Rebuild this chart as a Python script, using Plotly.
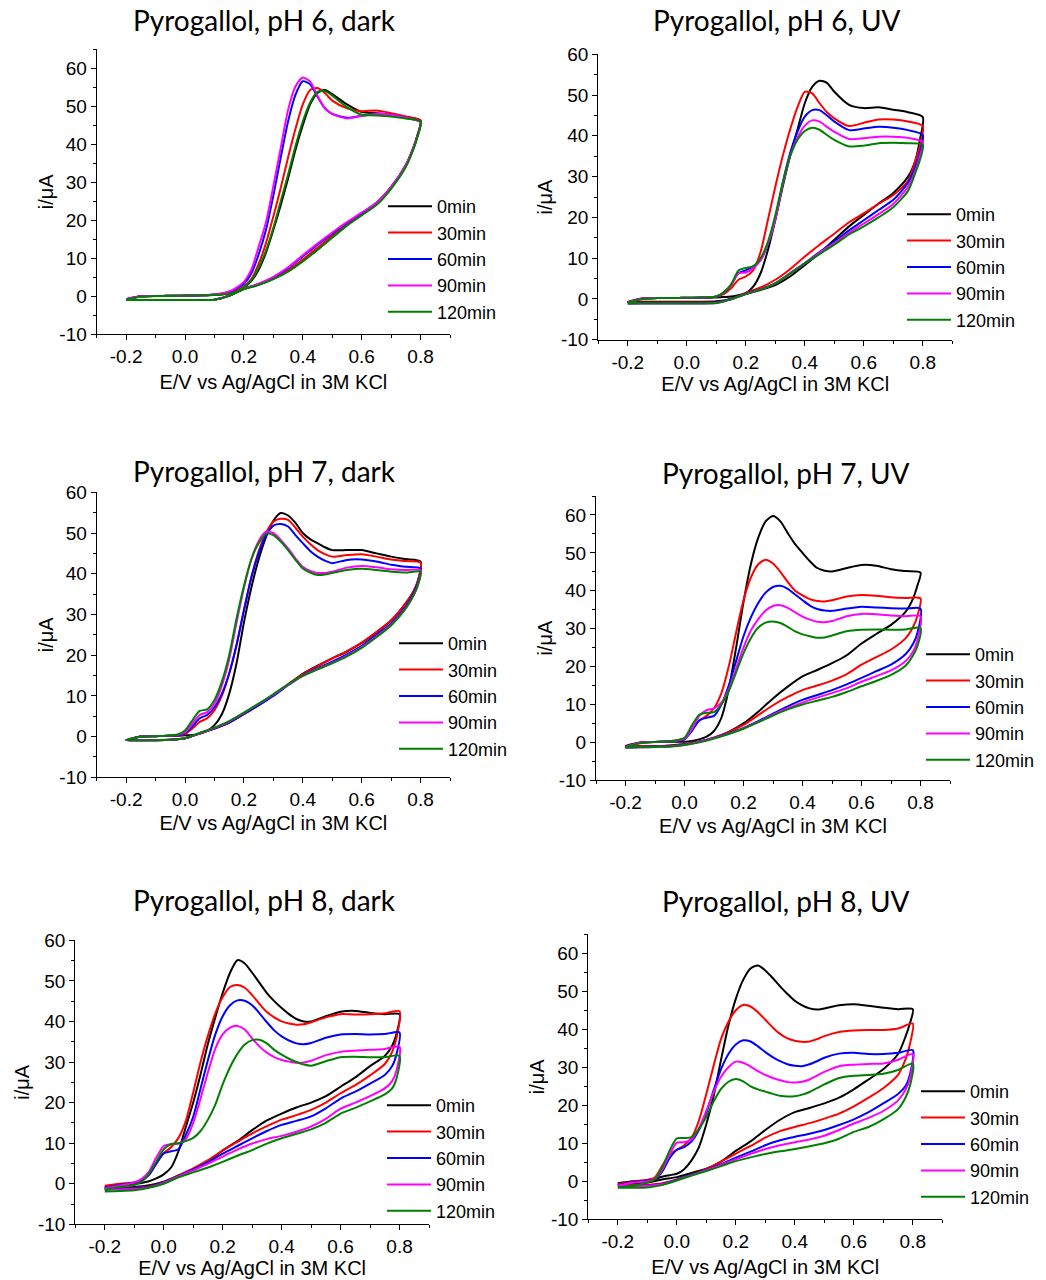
import plotly.graph_objects as go

W, H = 1046, 1280

# Potential grid (V vs Ag/AgCl): anodic sweep, then cathodic return
E_FWD = [-0.2, -0.15, -0.1, -0.075, -0.05, -0.025, 0.0, 0.025, 0.05, 0.075, 0.1, 0.125,
         0.15, 0.175, 0.2, 0.225, 0.25, 0.275, 0.3, 0.325, 0.35, 0.375, 0.4, 0.425,
         0.45, 0.475, 0.5, 0.55, 0.6, 0.65, 0.7, 0.75, 0.8]
E_REV = [0.79, 0.775, 0.75, 0.7, 0.65, 0.6, 0.55, 0.5, 0.45, 0.4, 0.35, 0.3, 0.25,
         0.2, 0.15, 0.1, 0.05, 0.0, -0.05, -0.1, -0.15, -0.2]

LABELS = ["0min", "30min", "60min", "90min", "120min"]
COLORS = ["#000000", "#ff0000", "#0000ff", "#ff00ff", "#008000"]

X_TICKS = [-0.2, 0.0, 0.2, 0.4, 0.6, 0.8]
X_TICK_TEXT = ["-0.2", "0.0", "0.2", "0.4", "0.6", "0.8"]
Y_TICKS = [-10, 0, 10, 20, 30, 40, 50, 60]
Y_TICK_TEXT = ["-10", "0", "10", "20", "30", "40", "50", "60"]

# Currents in uA, one list per irradiation time (0, 30, 60, 90, 120 min)
PH6_DARK_FWD = [
    [-0.8, 0.0, 0.1, 0.1, 0.15, 0.15, 0.2, 0.2, 0.25, 0.3, 0.4, 0.5, 0.7, 1.2, 2.3, 4.0, 7.0, 11.5, 17.5, 24.0, 31.0, 38.5, 45.0, 50.5, 53.5, 54.3, 53.2, 50.5, 48.5, 48.2, 47.8, 47.2, 46.3],
    [-0.8, 0.0, 0.1, 0.1, 0.15, 0.15, 0.2, 0.2, 0.25, 0.3, 0.4, 0.55, 0.8, 1.5, 2.6, 4.5, 8.5, 14.0, 21.0, 28.5, 36.5, 44.0, 50.5, 54.3, 54.8, 53.5, 51.5, 49.5, 48.7, 48.9, 48.2, 47.3, 46.2],
    [-0.8, 0.0, 0.1, 0.1, 0.15, 0.15, 0.2, 0.2, 0.25, 0.3, 0.45, 0.65, 1.1, 2.0, 3.3, 6.0, 11.0, 17.5, 26.5, 36.5, 46.0, 53.0, 56.6, 55.8, 52.5, 49.5, 48.0, 47.0, 47.5, 48.0, 47.8, 47.0, 45.9],
    [-0.8, 0.0, 0.1, 0.1, 0.15, 0.15, 0.2, 0.2, 0.25, 0.35, 0.5, 0.8, 1.3, 2.3, 3.8, 7.0, 13.0, 19.5, 29.0, 39.0, 49.0, 55.2, 57.6, 56.5, 52.8, 49.5, 48.0, 46.8, 47.5, 48.0, 47.8, 47.0, 45.8],
    [-0.9, -0.1, 0.05, 0.1, 0.1, 0.15, 0.15, 0.2, 0.2, 0.25, 0.35, 0.5, 0.7, 1.2, 2.4, 4.2, 7.5, 12.0, 18.0, 25.0, 32.0, 39.5, 46.0, 51.0, 53.8, 54.0, 52.8, 49.8, 47.8, 47.6, 47.3, 46.8, 46.0],
]
PH6_DARK_REV = [
    [42.5, 39.0, 34.5, 28.5, 24.3, 21.5, 18.8, 15.6, 12.3, 9.3, 6.6, 4.6, 3.0, 1.9, 0.1, -0.9, -1.0, -1.0, -1.0, -1.0, -1.0, -1.0],
    [42.5, 39.0, 34.5, 28.7, 24.5, 21.8, 19.0, 15.9, 12.8, 9.7, 6.9, 4.8, 3.1, 2.0, 0.2, -0.9, -1.0, -1.0, -1.0, -1.0, -1.0, -1.0],
    [42.3, 38.8, 34.5, 28.8, 24.6, 21.9, 19.3, 16.5, 13.6, 10.5, 7.4, 5.0, 3.2, 2.0, 0.2, -0.9, -1.0, -1.0, -1.0, -1.0, -1.0, -1.0],
    [42.3, 38.8, 34.5, 28.8, 24.6, 22.0, 19.5, 16.8, 13.9, 10.8, 7.6, 5.1, 3.3, 2.0, 0.2, -0.9, -1.0, -1.0, -1.0, -1.0, -1.0, -1.0],
    [42.0, 38.5, 34.0, 28.3, 24.0, 21.3, 18.6, 15.4, 12.2, 9.2, 6.5, 4.5, 3.0, 1.9, 0.1, -0.9, -1.0, -1.0, -1.0, -1.0, -1.0, -1.0],
]

PH6_UV_FWD = [
    [-0.7, 0.1, 0.2, 0.2, 0.2, 0.2, 0.2, 0.2, 0.25, 0.3, 0.35, 0.45, 0.6, 0.9, 1.4, 3.0, 6.3, 12.0, 19.4, 27.5, 35.0, 41.5, 48.0, 52.0, 53.5, 53.0, 50.8, 47.6, 46.8, 47.0, 46.4, 45.8, 44.6],
    [-0.8, 0.1, 0.2, 0.2, 0.2, 0.25, 0.3, 0.3, 0.35, 0.4, 0.6, 1.2, 2.6, 4.7, 5.5, 7.0, 11.5, 19.4, 27.5, 35.0, 41.5, 47.0, 50.8, 50.4, 48.0, 45.8, 44.3, 42.4, 43.2, 44.0, 44.0, 43.5, 42.4],
    [-0.9, 0.1, 0.2, 0.2, 0.2, 0.25, 0.3, 0.3, 0.35, 0.4, 0.6, 1.5, 3.4, 6.3, 7.0, 8.0, 9.5, 13.5, 19.5, 28.4, 35.7, 41.0, 44.7, 46.3, 46.3, 45.0, 43.5, 41.4, 41.8, 42.2, 42.0, 41.4, 40.2],
    [-0.9, 0.1, 0.2, 0.2, 0.2, 0.25, 0.3, 0.3, 0.35, 0.4, 0.6, 1.6, 3.5, 6.3, 6.5, 7.5, 9.5, 13.5, 19.5, 28.0, 35.0, 39.5, 42.5, 43.8, 43.5, 42.2, 41.0, 39.2, 39.4, 39.8, 39.8, 39.5, 38.5],
    [-1.0, 0.0, 0.2, 0.2, 0.2, 0.25, 0.3, 0.3, 0.35, 0.4, 0.6, 1.6, 3.5, 7.0, 7.6, 8.0, 10.0, 14.0, 20.5, 28.5, 35.0, 39.0, 41.2, 42.0, 41.5, 40.2, 39.0, 37.4, 37.6, 38.2, 38.3, 38.2, 37.8],
]
PH6_UV_REV = [
    [39.0, 34.0, 30.0, 26.0, 23.4, 20.6, 17.8, 14.5, 11.2, 8.3, 5.5, 3.4, 2.2, 1.2, 0.0, -0.6, -0.7, -0.7, -0.7, -0.7, -0.7, -0.7],
    [37.5, 34.0, 29.0, 25.5, 23.3, 21.0, 18.8, 16.0, 13.3, 10.4, 7.3, 4.7, 2.8, 1.5, 0.0, -0.8, -0.9, -0.9, -0.9, -0.9, -0.9, -0.9],
    [36.0, 32.5, 28.5, 24.3, 21.8, 19.3, 16.8, 14.0, 11.5, 8.8, 6.3, 3.8, 2.4, 1.3, 0.0, -0.9, -1.0, -1.0, -1.0, -1.0, -1.0, -1.1],
    [35.0, 31.5, 27.5, 23.3, 20.8, 18.5, 16.2, 13.7, 11.3, 8.7, 6.2, 3.8, 2.3, 1.2, -0.1, -1.0, -1.1, -1.1, -1.1, -1.1, -1.1, -1.1],
    [34.0, 31.0, 26.5, 22.5, 20.0, 17.8, 15.8, 13.3, 11.0, 8.7, 6.2, 3.8, 2.3, 1.2, -0.1, -1.0, -1.1, -1.1, -1.1, -1.1, -1.1, -1.1],
]

PH7_DARK_FWD = [
    [-0.9, 0.0, 0.1, 0.15, 0.2, 0.2, 0.3, 0.4, 0.7, 1.4, 2.8, 5.5, 10.5, 18.0, 28.0, 36.5, 43.5, 49.0, 53.0, 54.9, 54.3, 52.5, 50.0, 48.5, 47.5, 46.5, 45.8, 45.8, 45.8, 45.0, 44.2, 43.6, 43.0],
    [-0.9, 0.0, 0.1, 0.15, 0.2, 0.3, 0.6, 2.0, 3.6, 4.5, 6.5, 10.0, 15.5, 22.5, 31.0, 39.0, 45.5, 50.0, 52.8, 53.5, 53.2, 51.3, 49.1, 47.3, 45.8, 44.8, 44.2, 44.6, 44.8, 44.2, 43.5, 43.1, 42.7],
    [-0.9, 0.0, 0.1, 0.15, 0.2, 0.3, 0.8, 2.5, 4.5, 5.3, 7.2, 10.5, 15.5, 22.5, 31.0, 39.0, 45.0, 49.3, 51.8, 52.2, 51.6, 49.5, 47.5, 45.6, 44.2, 43.2, 42.6, 43.4, 43.5, 43.0, 42.2, 41.7, 41.3],
    [-0.9, 0.0, 0.1, 0.15, 0.25, 0.4, 1.0, 3.2, 5.3, 6.0, 8.0, 12.5, 19.0, 28.0, 36.5, 43.5, 48.0, 50.3, 50.0, 48.3, 46.2, 43.8, 41.7, 40.7, 40.2, 40.2, 40.5, 41.5, 41.9, 41.6, 41.1, 40.9, 40.9],
    [-0.9, 0.0, 0.1, 0.15, 0.3, 0.5, 1.5, 4.0, 6.3, 6.7, 9.0, 13.5, 20.0, 29.0, 37.0, 43.5, 47.5, 49.8, 49.5, 47.9, 45.8, 43.4, 41.3, 40.3, 39.7, 39.8, 40.2, 40.9, 41.2, 40.9, 40.5, 40.3, 40.5],
]
PH7_DARK_REV = [
    [38.0, 35.5, 32.8, 28.5, 25.6, 23.0, 20.9, 19.2, 17.4, 15.4, 12.8, 10.2, 7.7, 5.5, 3.4, 2.0, 0.8, -0.4, -0.8, -0.9, -0.9, -0.9],
    [38.0, 35.5, 32.8, 28.6, 25.7, 23.1, 21.0, 19.2, 17.3, 15.3, 12.8, 10.2, 7.8, 5.6, 3.5, 2.0, 0.8, -0.4, -0.8, -0.9, -0.9, -0.9],
    [37.5, 35.0, 32.0, 27.8, 25.0, 22.3, 20.2, 18.4, 16.8, 15.0, 12.6, 10.0, 7.7, 5.6, 3.5, 2.0, 0.8, -0.4, -0.8, -0.9, -0.9, -0.9],
    [37.0, 34.5, 31.6, 27.5, 24.6, 22.0, 19.9, 18.1, 16.6, 14.9, 12.7, 10.3, 8.0, 5.8, 3.7, 2.1, 0.8, -0.4, -0.8, -0.9, -0.9, -0.9],
    [37.0, 34.5, 31.5, 27.3, 24.4, 21.8, 19.7, 18.0, 16.5, 14.9, 12.8, 10.4, 8.1, 5.9, 3.8, 2.2, 0.9, -0.4, -0.8, -0.9, -0.9, -0.9],
]

PH7_UV_FWD = [
    [-1.0, 0.0, 0.1, 0.15, 0.2, 0.2, 0.2, 0.4, 0.8, 1.5, 3.0, 6.5, 14.0, 25.0, 37.0, 47.0, 54.0, 58.3, 59.7, 58.3, 55.2, 52.3, 50.0, 47.8, 46.0, 45.3, 45.1, 46.0, 46.8, 46.6, 45.7, 45.2, 44.8],
    [-1.1, 0.0, 0.1, 0.2, 0.3, 0.5, 1.0, 3.5, 5.8, 7.0, 9.0, 13.0, 20.0, 29.0, 37.5, 43.5, 47.0, 48.2, 47.2, 45.0, 42.3, 40.0, 38.8, 37.8, 37.3, 37.2, 37.5, 38.5, 38.9, 38.7, 38.3, 38.1, 38.0],
    [-1.2, -0.1, 0.1, 0.2, 0.3, 0.4, 0.8, 3.0, 5.8, 6.5, 7.0, 10.0, 15.0, 21.5, 28.0, 33.0, 36.8, 39.5, 41.0, 41.3, 40.5, 39.0, 37.5, 36.1, 35.2, 34.8, 34.7, 35.3, 35.8, 35.6, 35.4, 35.3, 35.3],
    [-1.2, -0.1, 0.1, 0.2, 0.3, 0.5, 1.0, 3.5, 7.0, 8.5, 9.0, 10.5, 14.0, 19.5, 25.0, 29.5, 32.5, 34.8, 36.0, 36.2, 35.5, 34.3, 33.2, 32.4, 31.8, 31.7, 32.0, 33.3, 33.9, 33.8, 33.5, 33.3, 33.3],
    [-1.3, -0.2, 0.1, 0.2, 0.3, 0.6, 1.2, 4.5, 7.3, 7.8, 8.0, 10.0, 13.5, 18.5, 23.5, 27.5, 30.3, 31.6, 31.9, 31.5, 30.5, 29.3, 28.5, 28.0, 27.6, 27.7, 28.2, 29.3, 29.7, 29.8, 29.7, 29.8, 30.2],
]
PH7_UV_REV = [
    [41.5, 38.0, 34.5, 31.0, 28.6, 26.1, 23.0, 20.9, 19.1, 17.4, 14.7, 11.6, 8.1, 5.0, 2.8, 1.2, 0.2, -0.4, -0.8, -1.0, -1.0, -1.0],
    [33.5, 30.5, 27.5, 24.5, 22.5, 20.5, 18.0, 16.3, 15.0, 13.8, 12.0, 9.8, 7.2, 4.6, 2.7, 1.3, 0.2, -0.5, -0.9, -1.0, -1.1, -1.2],
    [29.0, 26.0, 23.3, 20.5, 18.8, 17.0, 15.3, 13.8, 12.5, 11.2, 9.5, 7.6, 5.6, 3.8, 2.4, 1.2, 0.2, -0.6, -1.0, -1.1, -1.2, -1.3],
    [27.0, 24.0, 21.5, 19.0, 17.5, 16.0, 14.3, 13.0, 11.8, 10.5, 9.0, 7.3, 5.4, 3.7, 2.3, 1.1, 0.1, -0.7, -1.1, -1.2, -1.3, -1.4],
    [25.5, 23.0, 20.3, 17.8, 16.2, 14.8, 13.3, 12.0, 11.0, 10.0, 8.7, 7.1, 5.3, 3.6, 2.2, 1.0, 0.0, -0.7, -1.1, -1.2, -1.3, -1.4],
]

PH8_DARK_FWD = [
    [-0.8, -0.3, 0.0, 0.2, 0.6, 1.3, 2.3, 4.0, 8.0, 14.0, 20.0, 27.0, 34.5, 41.0, 47.0, 52.0, 55.1, 54.3, 52.0, 49.5, 47.0, 45.0, 43.3, 41.8, 40.6, 40.0, 40.0, 41.3, 42.4, 42.6, 42.1, 41.8, 41.8],
    [-0.5, 0.0, 0.3, 0.8, 2.2, 5.0, 7.5, 9.0, 11.3, 15.5, 22.5, 30.0, 36.5, 42.0, 46.0, 48.5, 49.0, 48.3, 46.5, 44.3, 42.3, 41.0, 40.0, 39.5, 39.2, 39.3, 39.8, 41.0, 41.8, 41.7, 41.8, 42.0, 42.5],
    [-1.0, -0.3, 0.3, 0.8, 2.2, 5.0, 7.5, 8.0, 8.5, 12.0, 16.5, 23.5, 30.5, 36.8, 41.3, 44.0, 45.2, 45.1, 44.0, 42.0, 39.8, 37.8, 36.3, 35.3, 34.6, 34.4, 34.7, 36.0, 36.8, 36.9, 36.8, 36.9, 37.3],
    [-1.2, -0.5, 0.3, 1.2, 3.0, 6.5, 9.3, 9.7, 9.9, 11.0, 15.0, 21.0, 27.5, 33.3, 36.8, 38.5, 38.9, 38.0, 35.8, 33.8, 32.3, 31.2, 30.5, 30.1, 29.8, 29.9, 30.3, 31.7, 32.5, 32.8, 33.0, 33.2, 33.8],
    [-1.5, -0.8, -0.3, 0.5, 2.5, 5.5, 8.5, 9.8, 10.0, 10.5, 11.3, 13.0, 15.8, 19.5, 24.5, 28.7, 32.0, 34.3, 35.4, 35.5, 34.6, 33.0, 31.8, 30.8, 30.0, 29.4, 29.1, 30.2, 31.2, 31.3, 31.2, 31.2, 31.5],
]
PH8_DARK_REV = [
    [37.0, 34.0, 31.5, 29.0, 26.2, 23.9, 21.6, 20.0, 18.8, 17.3, 15.6, 13.2, 10.5, 8.2, 5.3, 3.4, 2.0, 0.5, -0.4, -0.8, -0.9, -1.0],
    [36.0, 32.5, 29.5, 26.7, 24.3, 22.3, 20.0, 18.2, 16.9, 15.8, 14.2, 12.4, 10.3, 8.2, 5.8, 3.8, 2.1, 0.3, -0.7, -1.0, -1.1, -1.2],
    [32.0, 29.0, 26.8, 24.7, 22.7, 21.0, 18.6, 16.6, 15.5, 14.5, 13.0, 11.2, 9.3, 7.4, 5.3, 3.5, 1.9, 0.3, -0.8, -1.1, -1.2, -1.3],
    [28.0, 25.3, 23.5, 21.6, 20.0, 18.5, 16.0, 14.1, 12.8, 11.8, 11.0, 9.9, 8.4, 6.7, 4.9, 3.3, 1.8, 0.2, -0.9, -1.3, -1.4, -1.5],
    [26.0, 23.5, 22.0, 20.3, 18.7, 17.3, 15.0, 13.4, 12.3, 11.2, 9.9, 8.3, 6.9, 5.4, 4.0, 2.8, 1.6, 0.0, -1.0, -1.6, -1.8, -1.9],
]

PH8_UV_FWD = [
    [-0.5, 0.0, 0.3, 0.6, 1.2, 1.6, 2.0, 3.2, 5.5, 9.0, 15.0, 22.5, 32.0, 41.0, 48.0, 53.0, 56.0, 56.8, 55.5, 53.5, 51.3, 49.3, 47.5, 46.3, 45.5, 45.2, 45.5, 46.3, 46.6, 46.2, 45.7, 45.3, 45.3],
    [-0.8, -0.2, 0.4, 1.0, 4.0, 7.0, 8.3, 9.5, 11.5, 16.0, 23.0, 30.5, 37.5, 42.0, 45.0, 46.4, 46.0, 44.5, 42.5, 40.5, 38.8, 37.6, 37.0, 36.7, 36.8, 37.4, 38.2, 39.3, 39.7, 39.8, 39.8, 40.2, 41.5],
    [-1.0, -0.3, 0.2, 0.5, 2.5, 6.0, 8.3, 9.0, 10.5, 13.5, 18.0, 24.0, 29.5, 33.5, 36.0, 37.1, 36.8, 35.5, 34.0, 32.7, 31.6, 30.8, 30.4, 30.3, 30.8, 31.6, 32.5, 33.6, 33.8, 33.5, 33.5, 33.8, 34.5],
    [-1.1, -0.4, 0.0, 0.6, 3.0, 7.0, 10.2, 10.3, 11.0, 14.0, 18.5, 23.5, 27.5, 30.0, 31.5, 31.2, 30.2, 29.0, 28.0, 27.2, 26.6, 26.1, 26.0, 26.2, 26.8, 27.8, 28.8, 30.3, 30.7, 30.9, 31.0, 32.0, 33.5],
    [-1.6, -1.2, -0.3, 0.5, 3.5, 8.0, 11.3, 11.4, 11.6, 13.8, 17.0, 21.0, 24.3, 26.2, 26.9, 26.3, 25.0, 24.2, 23.6, 23.0, 22.5, 22.3, 22.4, 22.8, 23.5, 24.5, 25.5, 27.2, 27.8, 28.0, 28.3, 29.3, 31.0],
]
PH8_UV_REV = [
    [41.5, 38.0, 33.5, 29.5, 26.8, 24.2, 22.0, 20.5, 19.3, 18.2, 16.2, 13.5, 10.5, 8.0, 5.2, 3.3, 2.2, 1.1, 0.5, -0.3, -0.6, -0.7],
    [36.0, 32.0, 28.0, 24.5, 22.0, 19.7, 17.8, 16.5, 15.3, 14.3, 13.2, 11.5, 9.3, 7.3, 5.2, 3.2, 1.7, 0.5, -0.5, -0.9, -1.0, -1.0],
    [28.0, 25.0, 23.0, 20.5, 18.2, 16.3, 14.8, 13.5, 12.5, 11.7, 10.8, 9.5, 7.8, 6.2, 4.5, 3.0, 1.7, 0.4, -0.7, -1.1, -1.2, -1.3],
    [27.0, 24.0, 21.3, 18.5, 16.7, 15.2, 13.5, 12.0, 11.0, 10.3, 9.5, 8.5, 7.2, 5.8, 4.3, 2.9, 1.6, 0.3, -0.8, -1.2, -1.3, -1.4],
    [25.0, 22.0, 19.0, 16.3, 14.3, 13.0, 11.2, 10.0, 9.2, 8.5, 7.9, 7.2, 6.3, 5.3, 4.0, 2.7, 1.5, 0.2, -1.0, -1.6, -1.7, -1.7],
]

# Panel layout: title, data, plot box in pixels (left, right, top, bottom),
# upper current limit, title centre, legend anchor, axis-title standoffs
PANELS = [
    dict(title="Pyrogallol, pH 6, dark", fwd=PH6_DARK_FWD, rev=PH6_DARK_REV,
         box=(96.7, 450, 49.3, 334.3), ymax=65, tpos=(264, 20.3), leg=(383, 188), xs=8, ys=0),
    dict(title="Pyrogallol, pH 6, UV", fwd=PH6_UV_FWD, rev=PH6_UV_REV,
         box=(598.3, 952.3, 54.3, 339.7), ymax=60, tpos=(777, 20.3), leg=(902, 196), xs=3, ys=2.5),
    dict(title="Pyrogallol, pH 7, dark", fwd=PH7_DARK_FWD, rev=PH7_DARK_REV,
         box=(96.7, 450, 492.3, 777.3), ymax=60, tpos=(264, 471.3), leg=(394, 625), xs=6, ys=0),
    dict(title="Pyrogallol, pH 7, UV", fwd=PH7_UV_FWD, rev=PH7_UV_REV,
         box=(596, 950, 496, 780.3), ymax=65, tpos=(786, 473.3), leg=(921, 636), xs=6, ys=0),
    dict(title="Pyrogallol, pH 8, dark", fwd=PH8_DARK_FWD, rev=PH8_DARK_REV,
         box=(75.3, 429, 940.3, 1224.3), ymax=60, tpos=(264, 900.3), leg=(382, 1087), xs=4, ys=2.5),
    dict(title="Pyrogallol, pH 8, UV", fwd=PH8_UV_FWD, rev=PH8_UV_REV,
         box=(588.3, 942.3, 934.3, 1219.3), ymax=65, tpos=(786, 901.3), leg=(916, 1073), xs=8, ys=0),
]

ARIAL = "Liberation Sans, Arial, sans-serif"
TITLE_FONT = "Lato, Calibri, sans-serif"

fig = go.Figure()
layout = dict(
    width=W, height=H, margin=dict(l=0, r=0, t=0, b=0, autoexpand=False),
    paper_bgcolor="white", plot_bgcolor="white",
    font=dict(family=ARIAL, color="black"),
    annotations=[],
)

for k, p in enumerate(PANELS, start=1):
    sfx = "" if k == 1 else str(k)
    leg_name = "legend" + sfx
    for j in range(5):
        fig.add_trace(go.Scatter(
            x=E_FWD + E_REV, y=p["fwd"][j] + p["rev"][j],
            mode="lines", name=LABELS[j],
            line=dict(color=COLORS[j], width=2, shape="spline", smoothing=0.7),
            xaxis="x" + sfx, yaxis="y" + sfx, legend=leg_name,
            hoverinfo="skip",
        ))
    x0, x1, yt, yb = p["box"]
    axis_common = dict(
        showline=True, linecolor="black", linewidth=1.2, mirror=False,
        showgrid=False, zeroline=False,
        ticks="outside", ticklen=5, tickwidth=1.2, tickcolor="black",
        tickfont=dict(family=ARIAL, size=19, color="black"),
        tickmode="array",
    )
    layout["xaxis" + sfx] = dict(
        axis_common, domain=[x0 / W, x1 / W], anchor="y" + sfx,
        range=[-0.3, 0.9], tickvals=X_TICKS, ticktext=X_TICK_TEXT,
        minor=dict(ticks="outside", ticklen=3, tickwidth=1, tickcolor="black", tick0=-0.3, dtick=0.1),
        title=dict(text="E/V vs Ag/AgCl in 3M KCl", font=dict(family=ARIAL, size=20), standoff=p["xs"]),
    )
    layout["yaxis" + sfx] = dict(
        axis_common, domain=[1 - yb / H, 1 - yt / H], anchor="x" + sfx,
        range=[-10, p["ymax"]], tickvals=Y_TICKS, ticktext=Y_TICK_TEXT,
        minor=dict(ticks="outside", ticklen=3, tickwidth=1, tickcolor="black", tick0=-10, dtick=5),
        title=dict(text="i/μA", font=dict(family=ARIAL, size=20), standoff=p["ys"]),
    )
    lx, ly = p["leg"]
    layout[leg_name] = dict(
        x=lx / W, y=1 - ly / H, xanchor="left", yanchor="top",
        bgcolor="rgba(0,0,0,0)", borderwidth=0,
        font=dict(family=ARIAL, size=18, color="black"),
        itemwidth=44, tracegroupgap=0,
    )
    tx, ty = p["tpos"]
    layout["annotations"].append(dict(
        text=p["title"], x=tx / W, y=1 - ty / H, xref="paper", yref="paper",
        xanchor="center", yanchor="middle", showarrow=False,
        font=dict(family=TITLE_FONT, size=28, color="black"),
    ))

fig.update_layout(**layout)
fig.write_html("out.html")
